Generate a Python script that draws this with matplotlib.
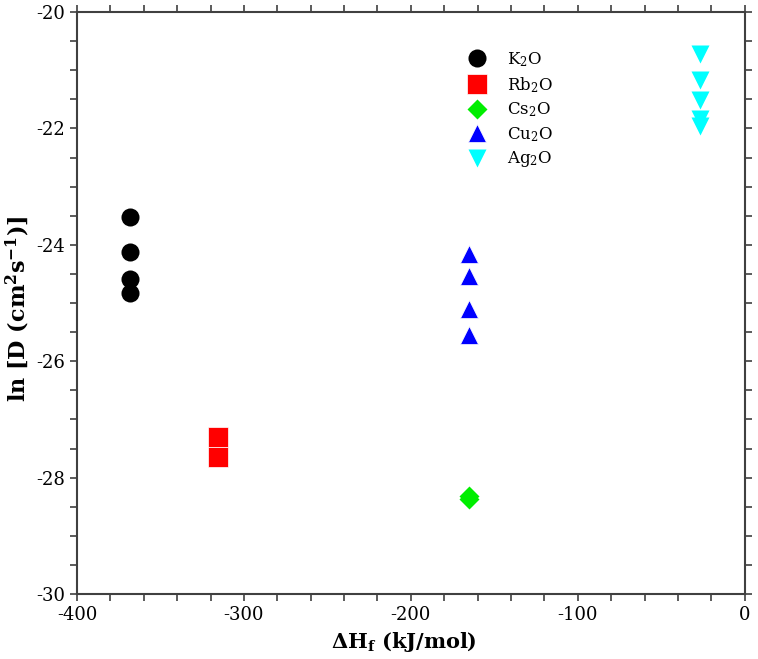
import numpy as np
import matplotlib
matplotlib.use("Agg")
import matplotlib.pyplot as plt
from matplotlib.ticker import MultipleLocator

plt.rcParams['font.family'] = ['DejaVu Serif']
plt.rcParams['mathtext.fontset'] = 'dejavuserif'
plt.rcParams['axes.unicode_minus'] = False

# data
k2o_x = [-368, -368, -368, -368]
k2o_y = [-23.53, -24.13, -24.58, -24.83]
rb2o_x = [-315.5, -315.5]
rb2o_y = [-27.31, -27.65]
cs2o_x = [-165.3, -165.3]
cs2o_y = [-28.31, -28.37]
cu2o_x = [-165.3, -165.3, -165.3, -165.3]
cu2o_y = [-24.15, -24.53, -25.10, -25.55]
ag2o_x = [-26.5, -26.5, -26.5, -26.5, -26.5]
ag2o_y = [-20.72, -21.16, -21.52, -21.84, -21.96]

labels = ['K$_2$O', 'Rb$_2$O', 'Cs$_2$O', 'Cu$_2$O', 'Ag$_2$O']

fig = plt.figure(figsize=(7.58, 6.59), dpi=100)
ax = fig.add_axes([0.1016, 0.0986, 0.8808, 0.8832])

ax.plot(k2o_x, k2o_y, 'o', color='black', ms=13, mec='none', label=labels[0])
ax.plot(rb2o_x, rb2o_y, 's', color='red', ms=14, mec='white', mew=0.5, label=labels[1])
ax.plot(cs2o_x, cs2o_y, 'D', color='#00ee00', ms=10, mec='none', label=labels[2])
ax.plot(cu2o_x, cu2o_y, '^', color='blue', ms=13, mec='white', mew=0.5, label=labels[3])
ax.plot(ag2o_x, ag2o_y, 'v', color='cyan', ms=13, mec='none', label=labels[4])

ax.set_xlim(-400, 0)
ax.set_ylim(-30, -20)
ax.xaxis.set_major_locator(MultipleLocator(100))
ax.xaxis.set_minor_locator(MultipleLocator(20))
ax.yaxis.set_major_locator(MultipleLocator(2))
ax.yaxis.set_minor_locator(MultipleLocator(0.5))
ax.tick_params(which='both', direction='out', top=True, right=True,
               color='#404040', width=1.2, length=5, labelsize=13)
for s in ax.spines.values():
    s.set_color('#404040')
    s.set_linewidth(1.5)

ax.set_xlabel(r'$\mathbf{\Delta H_f}$ (kJ/mol)', fontsize=15, fontweight='bold')
ax.set_ylabel('ln [D (cm$^{\\mathbf{2}}$s$^{\\mathbf{-1}}$)]', fontsize=16, fontweight='bold')
ax.xaxis.set_label_coords(0.489, -0.062)
ax.yaxis.set_label_coords(-0.068, 0.49)

ax.legend(loc='upper left', bbox_to_anchor=(0.552, 0.96), frameon=False,
          fontsize=12, handletextpad=0.8, labelspacing=0.35, numpoints=1)

fig.savefig('out.png', dpi=100)
